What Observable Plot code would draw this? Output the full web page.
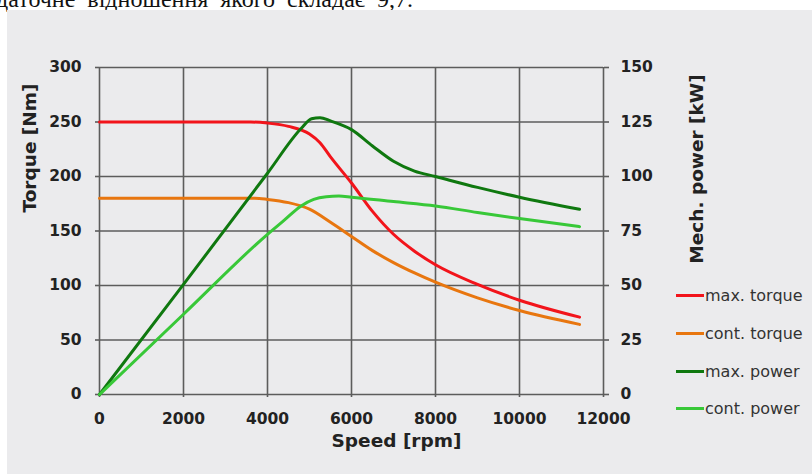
<!DOCTYPE html>
<html><head><meta charset="utf-8">
<script src="https://cdn.jsdelivr.net/npm/d3@7"></script>
<script src="https://cdn.jsdelivr.net/npm/@observablehq/plot@0.6"></script>
<style>
body{margin:0;width:812px;height:474px;overflow:hidden;background:#fff;position:relative;}
#panel{position:absolute;left:7px;top:10px;right:0;bottom:0;background:#ebebed;}
#toptext{position:absolute;left:-4px;top:-13px;font:24px/24px "Liberation Serif",serif;word-spacing:6px;color:#111;white-space:nowrap;}
#chart{position:absolute;left:0;top:0;}
.leg{position:absolute;left:676px;height:20px;font:16px "DejaVu Sans",sans-serif;color:#333;display:flex;align-items:center;white-space:nowrap;}
.leg span.sw{display:inline-block;width:28px;height:3px;margin-right:1px;}
</style>
</head><body>
<div id="toptext">даточне відношення якого складає 9,7.</div>
<div id="panel"></div>
<div id="chart"></div>
<div id="legend"></div>
<script>
// tick values
const xTicks = [0, 2000, 4000, 6000, 8000, 10000, 12000];
const yTicks = [0, 50, 100, 150, 200, 250, 300];

// max. torque [Nm]
const maxTorqueSpeed = [0, 1000, 2000, 3000, 3600, 4000, 4500, 5000, 5250, 5500, 6000, 6500, 7000, 7500, 8000, 9000, 10000, 11430];
const maxTorque      = [250, 250, 250, 250, 250, 249, 246, 239, 231, 218, 194, 168, 147, 131.5, 119, 101, 86.5, 71];

// cont. torque [Nm]
const contTorqueSpeed = [0, 1000, 2000, 3000, 3700, 4000, 4500, 5000, 5500, 6000, 6500, 7000, 7500, 8000, 9000, 10000, 11430];
const contTorque      = [180, 180, 180, 180, 180, 179, 176, 170, 158, 145, 132, 121, 111.5, 103, 88.6, 77, 64.3];

// max. power [kW]
const maxPowerSpeed = [0, 2000, 4000, 4800, 5050, 5250, 5500, 6000, 6500, 7000, 7500, 8000, 9000, 10000, 11430];
const maxPower      = [0, 50.5, 101.5, 122, 126.5, 127, 125.5, 121.5, 114, 107, 102.5, 100, 95, 90.5, 85];

// cont. power [kW]
const contPowerSpeed = [0, 2000, 4000, 4400, 4800, 5100, 5400, 5700, 6000, 7000, 8000, 9000, 10000, 11430];
const contPower      = [0, 36.8, 73.5, 80, 86.5, 89.5, 90.7, 91, 90.5, 88.5, 86.5, 83.5, 80.7, 77];

const seriesNames  = ["max. torque", "cont. torque", "max. power", "cont. power"];
const seriesColors = ["#f2141b", "#e8760f", "#0f780f", "#38c838"];

const toRows = (s, v) => s.map((x, i) => ({s: x, v: v[i]}));
const series = [
  {rows: toRows(maxTorqueSpeed, maxTorque), power: false},
  {rows: toRows(contTorqueSpeed, contTorque), power: false},
  {rows: toRows(maxPowerSpeed, maxPower), power: true},
  {rows: toRows(contPowerSpeed, contPower), power: true}
];

const gridStyle = {stroke: "#5c5c5c", strokeOpacity: 1, strokeWidth: 1.6};
const titleStyle = {fontSize: 18.5, fontWeight: "bold", fill: "#222", textAnchor: "middle", lineAnchor: "middle"};

const plot = Plot.plot({
  width: 812, height: 474,
  marginLeft: 99, marginRight: 209, marginTop: 67, marginBottom: 80,
  style: {background: "transparent", fontFamily: "DejaVu Sans", fontSize: "15.5px", fontWeight: "bold", color: "#222"},
  x: {domain: [0, 12000]},
  y: {domain: [0, 300]},
  marks: [
    Plot.gridX(xTicks, gridStyle),
    Plot.gridY(yTicks, gridStyle),
    Plot.axisX(xTicks, {tickSize: 3, tickPadding: 15, label: null, tickFormat: d => String(d), stroke: "#5c5c5c", strokeWidth: 1.6}),
    Plot.axisY(yTicks, {anchor: "left", tickSize: 4, tickPadding: 14, label: null, tickFormat: d => String(d), stroke: "#5c5c5c", strokeWidth: 1.6}),
    Plot.axisY(yTicks, {anchor: "right", tickSize: 5, tickPadding: 12, label: null, tickFormat: d => String(d / 2), stroke: "#5c5c5c", strokeWidth: 1.6}),
    ...series.map((sr, i) => Plot.line(sr.rows, {
      x: "s", y: d => sr.power ? d.v * 2 : d.v,
      stroke: seriesColors[i], strokeWidth: 3, curve: "monotone-x"
    })),
    Plot.text(["Speed [rpm]"], {frameAnchor: "bottom", dx: 45, dy: 47, ...titleStyle}),
    Plot.text(["Torque [Nm]"], {frameAnchor: "left", rotate: -90, dx: -69, dy: -83, ...titleStyle}),
    Plot.text(["Mech. power [kW]"], {frameAnchor: "right", rotate: -90, dx: 94, dy: -62, ...titleStyle})
  ]
});
document.getElementById("chart").appendChild(plot);

// legend
const legendY = [285, 323, 361, 398];
const leg = document.getElementById("legend");
seriesNames.forEach((n, i) => {
  const d = document.createElement("div");
  d.className = "leg";
  d.style.top = legendY[i] + "px";
  d.innerHTML = `<span class="sw" style="background:${seriesColors[i]}"></span>${n}`;
  leg.appendChild(d);
});
</script>
</body></html>
